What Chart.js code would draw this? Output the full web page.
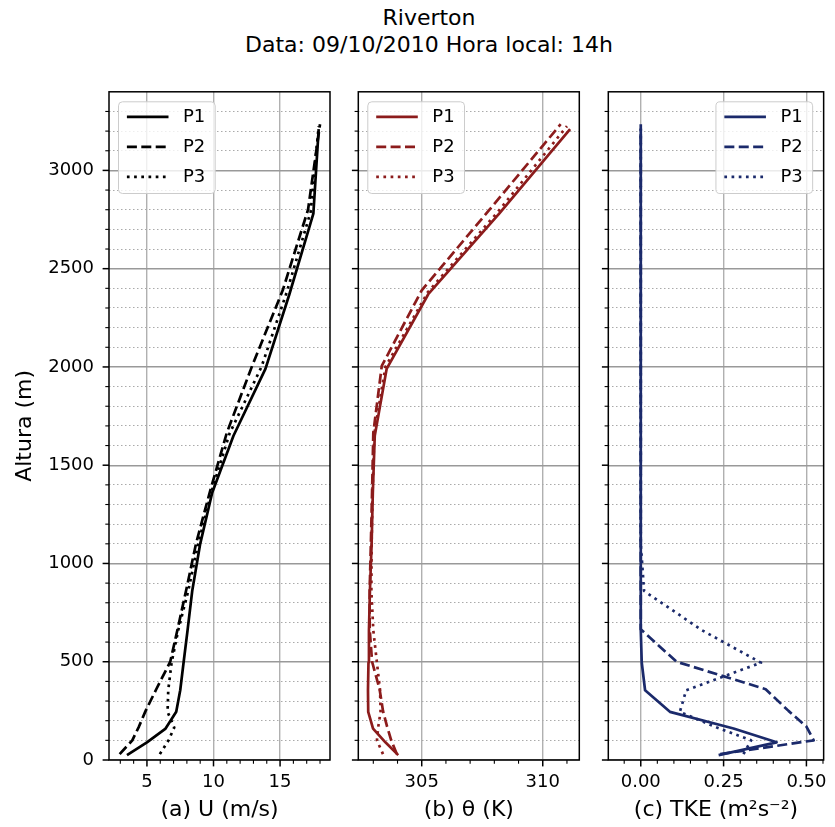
<!DOCTYPE html>
<html>
<head>
<meta charset="utf-8">
<script src="https://cdn.jsdelivr.net/npm/chart.js@4.4.0/dist/chart.umd.min.js"></script>
<style>
    body { margin: 0; background: #fff; }
    #fig { position: relative; width: 835px; height: 827px; overflow: hidden; font-family: 'DejaVu Sans', sans-serif; }
    #title { position: absolute; left: 29px; width: 800px; top: 4px; text-align: center; font-size: 22px; line-height: 27px; color: #000; }
    canvas { position: absolute; top: 66px; }
    #cA { left: 0; }
    #cB { left: 340px; }
    #cC { left: 590px; }
</style>
</head>
<body>
<div id="fig">
    <div id="title">Riverton<br>Data: 09/10/2010 Hora local: 14h</div>
    <canvas id="cA" width="340" height="761"></canvas>
    <canvas id="cB" width="250" height="761"></canvas>
    <canvas id="cC" width="245" height="761"></canvas>
</div>
<script>
// niveis (m) de cada perfil
const altP1 = [25, 90, 160, 245, 355, 495, 660, 860, 1100, 1360, 1650, 1990, 2370, 2780, 3210];
const altP2 = [30, 100, 170, 250, 360, 500, 665, 865, 1105, 1370, 1665, 2005, 2390, 2800, 3235];
const altP3 = [30, 100, 165, 245, 355, 495, 660, 860, 1100, 1365, 1660, 2000, 2380, 2790, 3225];

// (a) vento U (m/s)
const uP1 = [3.5, 5.0, 6.4, 7.2, 7.5, 7.75, 8.05, 8.4, 9.0, 9.9, 11.5, 13.9, 15.7, 17.5, 17.9];
const uP2 = [2.95, 3.9, 4.4, 4.9, 5.7, 6.75, 7.3, 7.95, 8.7, 9.75, 11.0, 12.9, 15.2, 17.1, 18.0];
const uP3 = [5.97, 6.62, 7.05, 6.55, 6.6, 6.85, 7.35, 8.1, 8.85, 9.85, 11.2, 13.6, 15.5, 17.3, 17.9];

// (b) temperatura potencial (K)
const thP1 = [304.03, 303.5, 302.99, 302.79, 302.78, 302.8, 302.82, 302.86, 302.93, 302.98, 303.06, 303.55, 305.27, 308.2, 311.13];
const thP2 = [303.97, 303.74, 303.57, 303.4, 303.26, 302.95, 302.85, 302.85, 302.9, 302.95, 303.0, 303.35, 305.0, 307.8, 310.74];
const thP3 = [303.4, 303.15, 303.2, 303.3, 303.28, 303.15, 303.0, 302.92, 302.93, 302.97, 303.04, 303.5, 305.25, 308.15, 311.0];

// (c) TKE (m2 s-2)
const tkeP1 = [0.235, 0.41, 0.28, 0.088, 0.013, 0.003, 0, 0, 0, 0, 0, 0, 0, 0, 0];
const tkeP2 = [0.24, 0.522, 0.5, 0.446, 0.377, 0.108, 0, 0, 0, 0, 0, 0, 0, 0, 0];
const tkeP3 = [0.31, 0.333, 0.23, 0.118, 0.137, 0.363, 0.185, 0.01, 0, 0, 0, 0, 0, 0, 0];

// ticks
const yMajor = [0, 500, 1000, 1500, 2000, 2500, 3000];
const xMajorA = [5, 10, 15];
const xMajorB = [305, 310];
const xMajorC = [0, 0.25, 0.5];
const xLabelsC = ['0.00', '0.25', '0.50'];

function range(a, b, step) {
    const out = [];
    for (let v = a; v <= b + 1e-9; v += step) out.push(Math.round(v * 1000) / 1000);
    return out;
}
const yMinor = range(0, 3300, 100);
const xMinorA = range(3, 18, 1);
const xMinorB = range(303, 311, 1);
const xMinorC = range(-0.05, 0.55, 0.05);

const isIn = (arr, v) => arr.some(m => Math.abs(m - v) < 1e-6);
const zip = (xs, ys) => xs.map((x, i) => ({ x, y: ys[i] }));

Chart.defaults.font.family = "'DejaVu Sans', sans-serif";
Chart.defaults.color = '#000';

const DASH = [10, 4.4];
const DOT = [2.7, 4.5];

// moldura, tracos dos ticks e legenda no estilo matplotlib
const framePlugin = {
    id: 'frame',
    afterDatasetsDraw(chart, args, opts) {
        const { ctx, chartArea: a, scales } = chart;
        ctx.save();
        ctx.strokeStyle = '#000';
        scales.x.ticks.forEach(t => {
            const px = scales.x.getPixelForValue(t.value);
            const major = isIn(opts.xMajor, t.value);
            ctx.lineWidth = major ? 1.5 : 1.1;
            ctx.beginPath();
            ctx.moveTo(px, a.bottom);
            ctx.lineTo(px, a.bottom + (major ? 6.4 : 3.7));
            ctx.stroke();
        });
        scales.y.ticks.forEach(t => {
            const py = scales.y.getPixelForValue(t.value);
            const major = isIn(yMajor, t.value);
            ctx.lineWidth = major ? 1.5 : 1.1;
            ctx.beginPath();
            ctx.moveTo(a.left, py);
            ctx.lineTo(a.left - (major ? 6.4 : 3.7), py);
            ctx.stroke();
        });
        ctx.lineWidth = 1.5;
        ctx.strokeRect(a.left, a.top, a.width, a.height);

        // legenda
        const w = 96.7, h = 91.7;
        const bx = opts.side === 'left' ? a.left + 9.5 : a.right - 11 - w;
        const by = a.top + 10;
        ctx.beginPath();
        ctx.roundRect(bx, by, w, h, 4);
        ctx.fillStyle = 'rgba(255,255,255,0.8)';
        ctx.fill();
        ctx.lineWidth = 1;
        ctx.strokeStyle = '#cccccc';
        ctx.stroke();
        ctx.font = "18px 'DejaVu Sans'";
        ctx.textBaseline = 'middle';
        chart.data.datasets.forEach((ds, i) => {
            const ry = by + 15 + i * 30;
            ctx.beginPath();
            ctx.setLineDash(ds.borderDash || []);
            ctx.strokeStyle = ds.borderColor;
            ctx.lineWidth = ds.borderWidth;
            ctx.moveTo(bx + 8.4, ry);
            ctx.lineTo(bx + 50, ry);
            ctx.stroke();
            ctx.setLineDash([]);
            ctx.fillStyle = '#000';
            ctx.fillText(ds.label, bx + 64.5, ry + 1);
        });
        ctx.restore();
    }
};

function makePanel(id, color, series, xOpt, yAxisWidth, rightPad, showY, side) {
    const names = ['P1', 'P2', 'P3'];
    const dashes = [[], DASH, DOT];
    const datasets = series.map((pts, i) => ({
        label: names[i],
        data: pts,
        showLine: true,
        borderColor: color,
        borderWidth: 2.7,
        borderDash: dashes[i],
        borderJoinStyle: 'round',
        pointRadius: 0,
        fill: false,
    }));
    return new Chart(document.getElementById(id), {
        type: 'scatter',
        data: { datasets },
        plugins: [framePlugin],
        options: {
            responsive: false,
            animation: false,
            layout: { padding: { top: 0, right: rightPad, bottom: 0, left: 0 } },
            plugins: {
                legend: { display: false },
                tooltip: { enabled: false },
                frame: { xMajor: xOpt.major, side },
            },
            scales: {
                x: {
                    type: 'linear',
                    min: xOpt.min,
                    max: xOpt.max,
                    afterBuildTicks: s => { s.ticks = xOpt.minor.map(v => ({ value: v })); },
                    afterFit: s => { s.height = 67; },
                    ticks: {
                        autoSkip: false,
                        maxRotation: 0,
                        padding: 12,
                        font: { size: 18 },
                        callback: v => {
                            const k = xOpt.major.findIndex(m => Math.abs(m - v) < 1e-6);
                            return k < 0 ? '' : xOpt.labels[k];
                        },
                    },
                    grid: {
                        drawTicks: false,
                        lineWidth: 1.4,
                        color: c => (c.tick && isIn(xOpt.major, c.tick.value)) ? '#b0b0b0' : 'rgba(0,0,0,0)',
                    },
                    border: { display: false },
                    title: {
                        display: true,
                        text: xOpt.title,
                        font: { size: 22 },
                        padding: { top: 0, bottom: 4 },
                    },
                },
                y: {
                    type: 'linear',
                    min: 0,
                    max: 3400,
                    afterBuildTicks: s => { s.ticks = yMinor.map(v => ({ value: v })); },
                    afterFit: s => { s.width = yAxisWidth; },
                    ticks: {
                        autoSkip: false,
                        padding: 15,
                        font: { size: 18 },
                        callback: v => (showY && isIn(yMajor, v)) ? String(v) : '',
                    },
                    grid: {
                        drawTicks: false,
                        lineWidth: c => (c.tick && isIn(yMajor, c.tick.value)) ? 1.4 : 1,
                        color: c => (c.tick && isIn(yMajor, c.tick.value)) ? '#999999' : '#aaaaaa',
                    },
                    border: {
                        display: false,
                        dash: c => (c.tick && !isIn(yMajor, c.tick.value)) ? [1.5, 2.5] : [],
                    },
                    title: {
                        display: showY,
                        text: 'Altura (m)',
                        font: { size: 22 },
                        padding: { top: 12, bottom: 0 },
                    },
                },
            },
        },
    });
}

makePanel('cA', '#000000',
    [zip(uP1, altP1), zip(uP2, altP2), zip(uP3, altP3)],
    { min: 2.15, max: 18.75, major: xMajorA, labels: ['5', '10', '15'], minor: xMinorA, title: '(a) U (m/s)' },
    109, 10, true, 'left');

makePanel('cB', '#8c1c1c',
    [zip(thP1, altP1), zip(thP2, altP2), zip(thP3, altP3)],
    { min: 302.38, max: 311.51, major: xMajorB, labels: ['305', '310'], minor: xMinorB, title: '(b) θ (K)' },
    18.3, 10.7, false, 'left');

makePanel('cC', '#1b2a6b',
    [zip(tkeP1, altP1), zip(tkeP2, altP2), zip(tkeP3, altP3)],
    { min: -0.098, max: 0.552, major: xMajorC, labels: xLabelsC, minor: xMinorC, title: '(c) TKE (m²s⁻²)' },
    18.3, 5.7, false, 'right');
</script>
</body>
</html>
